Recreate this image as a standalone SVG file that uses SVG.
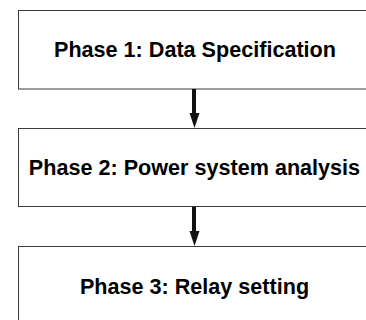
<svg xmlns="http://www.w3.org/2000/svg" width="366" height="320" viewBox="0 0 366 320">
  <style>
    .box { fill: #ffffff; stroke: #3a3a3a; stroke-width: 1; }
    .label { font-family: "Liberation Sans", Arial, sans-serif; font-weight: bold; font-size: 21.6px; fill: #000000; text-anchor: middle; }
    .link { stroke: #111111; stroke-width: 4; fill: none; }
    .head { fill: #111111; }
  </style>
  <rect width="366" height="320" fill="#ffffff"/>

  <g id="phase1">
    <rect class="box" x="18.5" y="10.5" width="355" height="78.5"/>
    <text class="label" x="195" y="57">Phase 1: Data Specification</text>
  </g>

  <g id="phase2">
    <rect class="box" x="18.5" y="128.5" width="355" height="78"/>
    <text class="label" x="194.5" y="175">Phase 2: Power system analysis</text>
  </g>

  <g id="phase3">
    <rect class="box" x="18.5" y="246.5" width="355" height="78"/>
    <text class="label" x="194.5" y="293.5">Phase 3: Relay setting</text>
  </g>

  <g id="connectors">
    <line class="link" x1="194" y1="89" x2="194" y2="114"/>
    <polygon class="head" points="189.5,113 199.5,113 194.5,128"/>
    <line class="link" x1="194" y1="207" x2="194" y2="232"/>
    <polygon class="head" points="189.5,231 199.5,231 194.5,246"/>
  </g>
</svg>
